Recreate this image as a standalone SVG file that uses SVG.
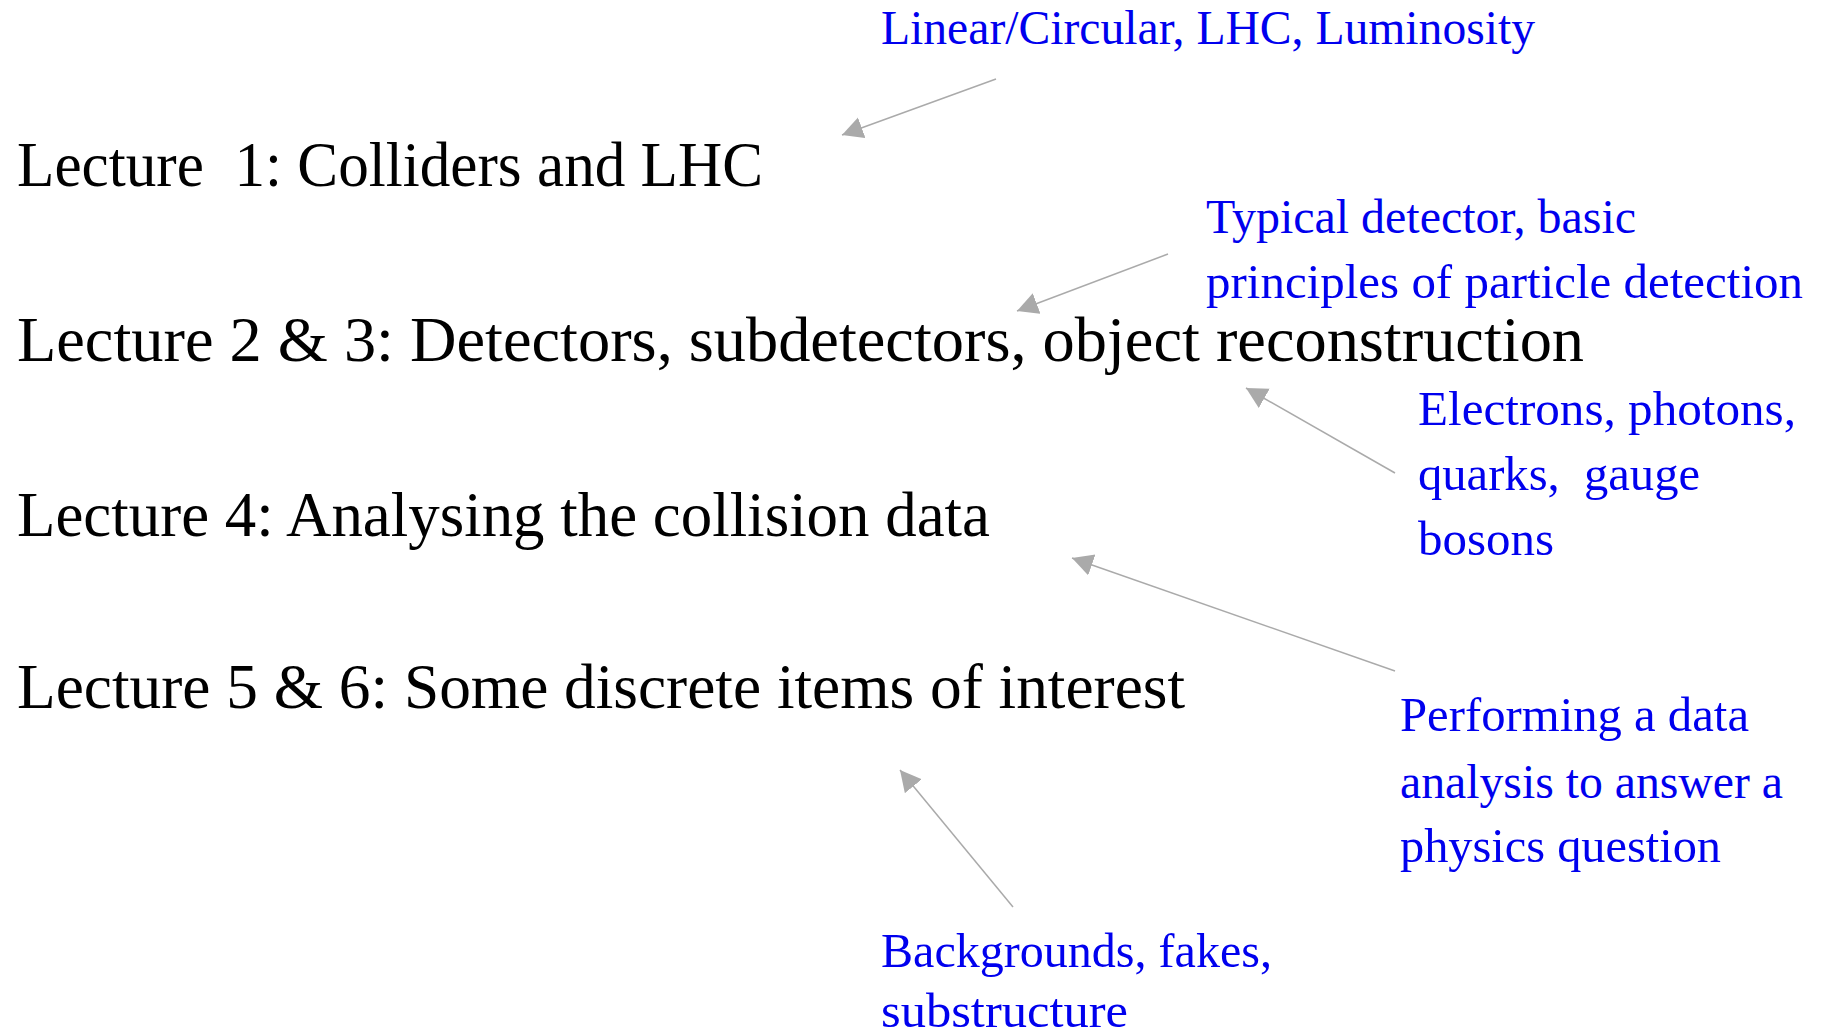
<svg xmlns="http://www.w3.org/2000/svg" width="1826" height="1035" viewBox="0 0 1826 1035">
<style>
.main{font-family:"Liberation Serif",serif;font-size:64px;fill:#000;white-space:pre}
.note{font-family:"Liberation Serif",serif;font-size:48px;fill:#0000ee;white-space:pre}
.conn{stroke:#aaaaaa;stroke-width:1.5;fill:none;marker-end:url(#ah)}
</style>
<defs>
<marker id="ah" markerUnits="userSpaceOnUse" markerWidth="24" markerHeight="24" refX="21" refY="11" orient="auto">
<path d="M0,0 L21,11 L0,22 Z" fill="#aaaaaa"/>
</marker>
</defs>
<rect width="1826" height="1035" fill="#fff"/>
<g id="lecture1"><text class="main" x="17" y="186" textLength="746" lengthAdjust="spacingAndGlyphs">Lecture  1: Colliders and LHC</text></g>
<g id="lecture23"><text class="main" x="17" y="361" textLength="1567" lengthAdjust="spacingAndGlyphs">Lecture 2 &amp; 3: Detectors, subdetectors, object reconstruction</text></g>
<g id="lecture4"><text class="main" x="17" y="536" textLength="973" lengthAdjust="spacingAndGlyphs">Lecture 4: Analysing the collision data</text></g>
<g id="lecture56"><text class="main" x="17" y="708" textLength="1168" lengthAdjust="spacingAndGlyphs">Lecture 5 &amp; 6: Some discrete items of interest</text></g>
<g id="note1"><text class="note" x="881" y="44" textLength="654" lengthAdjust="spacingAndGlyphs">Linear/Circular, LHC, Luminosity</text></g>
<g id="note2"><text class="note" x="1206" y="233" textLength="430" lengthAdjust="spacingAndGlyphs">Typical detector, basic</text><text class="note" x="1206" y="298" textLength="597" lengthAdjust="spacingAndGlyphs">principles of particle detection</text></g>
<g id="note3"><text class="note" x="1418" y="425" textLength="378" lengthAdjust="spacingAndGlyphs">Electrons, photons,</text><text class="note" x="1418" y="490" textLength="282" lengthAdjust="spacingAndGlyphs">quarks,  gauge</text><text class="note" x="1418" y="555" textLength="136" lengthAdjust="spacingAndGlyphs">bosons</text></g>
<g id="note4"><text class="note" x="1400" y="731" textLength="349" lengthAdjust="spacingAndGlyphs">Performing a data</text><text class="note" x="1400" y="798" textLength="383" lengthAdjust="spacingAndGlyphs">analysis to answer a</text><text class="note" x="1400" y="862" textLength="321" lengthAdjust="spacingAndGlyphs">physics question</text></g>
<g id="note5"><text class="note" x="881" y="967" textLength="391" lengthAdjust="spacingAndGlyphs">Backgrounds, fakes,</text><text class="note" x="881" y="1027" textLength="247" lengthAdjust="spacingAndGlyphs">substructure</text></g>
<g id="connectors">
<line class="conn" x1="996" y1="79" x2="842" y2="135"/>
<line class="conn" x1="1168" y1="254" x2="1017" y2="311"/>
<line class="conn" x1="1395" y1="473" x2="1246" y2="388"/>
<line class="conn" x1="1395" y1="671" x2="1072" y2="558"/>
<line class="conn" x1="1013" y1="907" x2="900" y2="770"/>
</g>
</svg>
